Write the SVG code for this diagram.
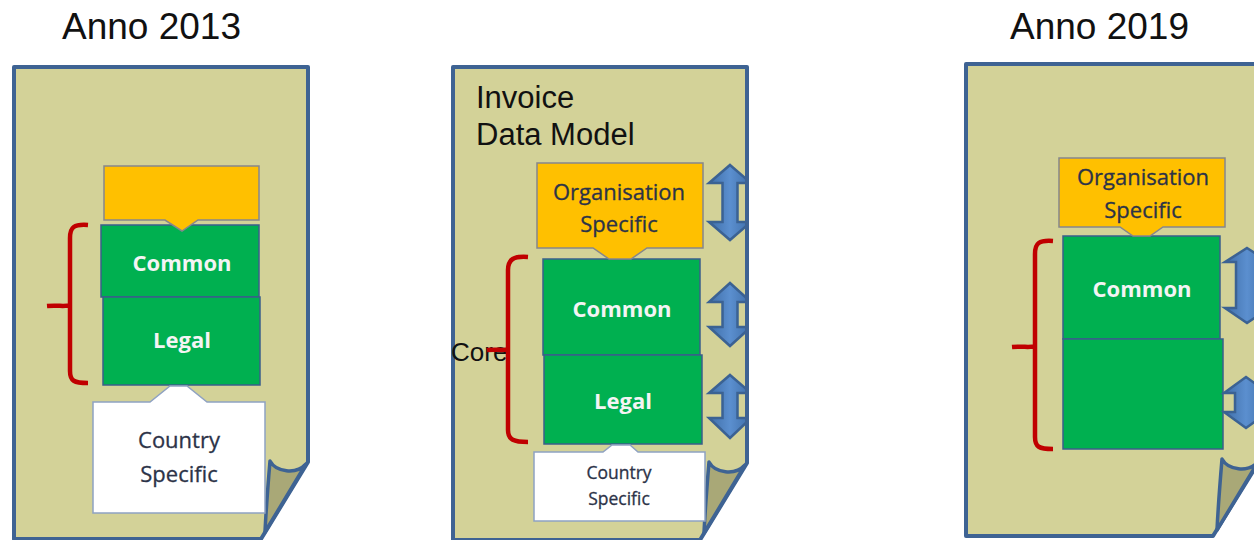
<svg xmlns="http://www.w3.org/2000/svg" width="1254" height="540" viewBox="0 0 1254 540">
<style>
.page{fill:#d3d298;stroke:#3e6393;stroke-width:4;stroke-linejoin:round}
.flap{fill:#a9a877;stroke:#3e6393;stroke-width:3.5;stroke-linejoin:round}
.org{fill:#ffc000;stroke:#86878c;stroke-width:1.5}
.grn{fill:#00b050;stroke:#3a5f8a;stroke-width:1.5}
.wht{fill:#ffffff;stroke:#8fa2c2;stroke-width:1.5}
.brk{fill:none;stroke:#c00000;stroke-width:4.5;stroke-linecap:butt}
.arr{fill:url(#ag);stroke:#3b6293;stroke-width:2.5;stroke-linejoin:miter}
.title{font-family:"Liberation Sans",Arial,sans-serif;font-size:37px;fill:#111}
.lbl{font-family:"Liberation Sans",Arial,sans-serif;fill:#111}
.bold{font-family:"Open Sans","Noto Sans",sans-serif;font-weight:bold;font-size:22px;fill:#f4f4f4;text-anchor:middle}
.reg{font-family:"Open Sans","Noto Sans",sans-serif;font-size:22px;fill:#2c3348;text-anchor:middle;stroke:#2c3348;stroke-width:0.3}
</style>
<defs>
<linearGradient id="ag" x1="0" y1="0" x2="1" y2="0">
<stop offset="0" stop-color="#3f6ea8"/>
<stop offset="0.5" stop-color="#5b8fcf"/>
<stop offset="1" stop-color="#3f6ea8"/>
</linearGradient>
<clipPath id="cm"><rect x="0" y="0" width="749" height="540"/></clipPath>
</defs>

<text class="title" x="62" y="39">Anno 2013</text>
<text class="title" x="1010" y="39">Anno 2019</text>

<g id="doc2013">
<path class="page" d="M14,67 H308 V462 L261,539 H14 Z"/>
<path class="flap" d="M270,461 C276,472 296,475 306,464 L265,532 C266,510 268,485 270,461 Z"/>
</g>
<g id="doc-invoice">
<path class="page" d="M453,67 H747 V463 L700,540 H453 Z"/>
<path class="flap" d="M709,462 C715,473 735,476 745,465 L704,533 C705,511 707,486 709,462 Z"/>
</g>
<g id="doc2019">
<path class="page" d="M966,64 H1260 V460 L1213,536 H966 Z"/>
<path class="flap" d="M1222,459 C1228,470 1248,473 1258,462 L1217,530 C1218,508 1220,483 1222,459 Z"/>
</g>

<g id="n2013-common">
<rect class="grn" x="101" y="225" width="158" height="72"/>
<text class="bold" x="182" y="271">Common</text>
</g>
<g id="n2013-legal">
<rect class="grn" x="103" y="297" width="157" height="88"/>
<text class="bold" x="182" y="348">Legal</text>
</g>
<g id="n2013-org">
<path class="org" d="M104,166 H259 V220 H198 L182,231 L165,220 H104 Z"/>
</g>
<g id="n2013-country">
<path class="wht" d="M93,402 H150 L170,386 H187 L207,402 H265 V513 H93 Z"/>
<text class="reg" x="179" y="448">Country</text>
<text class="reg" x="179" y="482">Specific</text>
</g>

<g id="ninv-common">
<rect class="grn" x="543" y="259" width="157" height="96"/>
<text class="bold" x="622" y="317">Common</text>
</g>
<g id="ninv-legal">
<rect class="grn" x="544" y="355" width="158" height="89"/>
<text class="bold" x="623" y="409">Legal</text>
</g>
<g id="ninv-org">
<path class="org" d="M537,163 H703 V248 H647 L631,259 H609 L593,248 H537 Z"/>
<text class="reg" x="619" y="200">Organisation</text>
<text class="reg" x="619" y="232">Specific</text>
</g>
<g id="ninv-country">
<path class="wht" d="M534,452 H603 L612,445 H630 L638,452 H705 V521 H534 Z"/>
<text class="reg" x="619" y="479" style="font-size:17.5px">Country</text>
<text class="reg" x="619" y="505" style="font-size:17.5px">Specific</text>
</g>
<text class="lbl" x="451" y="361" style="font-size:26px">Core</text>
<text class="lbl" x="476" y="108" style="font-size:31px">Invoice</text>
<text class="lbl" x="476" y="145" style="font-size:31px">Data Model</text>

<g id="n2019-common">
<rect class="grn" x="1063" y="236" width="157" height="103"/>
<text class="bold" x="1142" y="297">Common</text>
</g>
<g id="n2019-legal">
<rect class="grn" x="1063" y="339" width="160" height="110"/>
</g>
<g id="n2019-org">
<path class="org" d="M1059,158 H1225 V227 H1163 L1150,236 H1133 L1120,227 H1059 Z"/>
<text class="reg" x="1143" y="185">Organisation</text>
<text class="reg" x="1143" y="218">Specific</text>
</g>

<g id="connectors">
<path class="brk" d="M88,225 C74,224 70,227 70,238 V371 C70,381 74,383 88,383 M47,306 C58,305 66,307 70,305"/>
<path class="brk" d="M528,257 C514,256 508,259 508,270 V430 C508,440 514,442 528,442 M487,350 C498,349 504,351 508,349"/>
<path class="brk" d="M1053,241 C1039,240 1035,243 1035,254 V437 C1035,447 1039,449 1053,449 M1012,347 C1023,346 1031,348 1035,346"/>
<g clip-path="url(#cm)">
<path class="arr" d="M730,165 L751,183 L737.5,183 L737.5,222 L751,222 L730,240 L709,222 L722.5,222 L722.5,183 L709,183 Z"/>
<path class="arr" d="M730,283 L751,302 L737.5,302 L737.5,327 L751,327 L730,346 L709,327 L722.5,327 L722.5,302 L709,302 Z"/>
<path class="arr" d="M730,375 L751,393 L737.5,393 L737.5,418 L751,418 L730,438 L709,418 L722.5,418 L722.5,393 L709,393 Z"/>
</g>
<path d="M747,67 V463" fill="none" stroke="#3e6393" stroke-width="4"/>
<path class="arr" d="M1247,248 L1269,262 L1258,262 L1258,308 L1269,308 L1247,323 L1225,308 L1236,308 L1236,262 L1225,262 Z"/>
<path class="arr" d="M1246,377 L1268,393 L1257,393 L1257,412 L1268,412 L1246,428 L1224,412 L1235,412 L1235,393 L1224,393 Z"/>
</g>
</svg>
